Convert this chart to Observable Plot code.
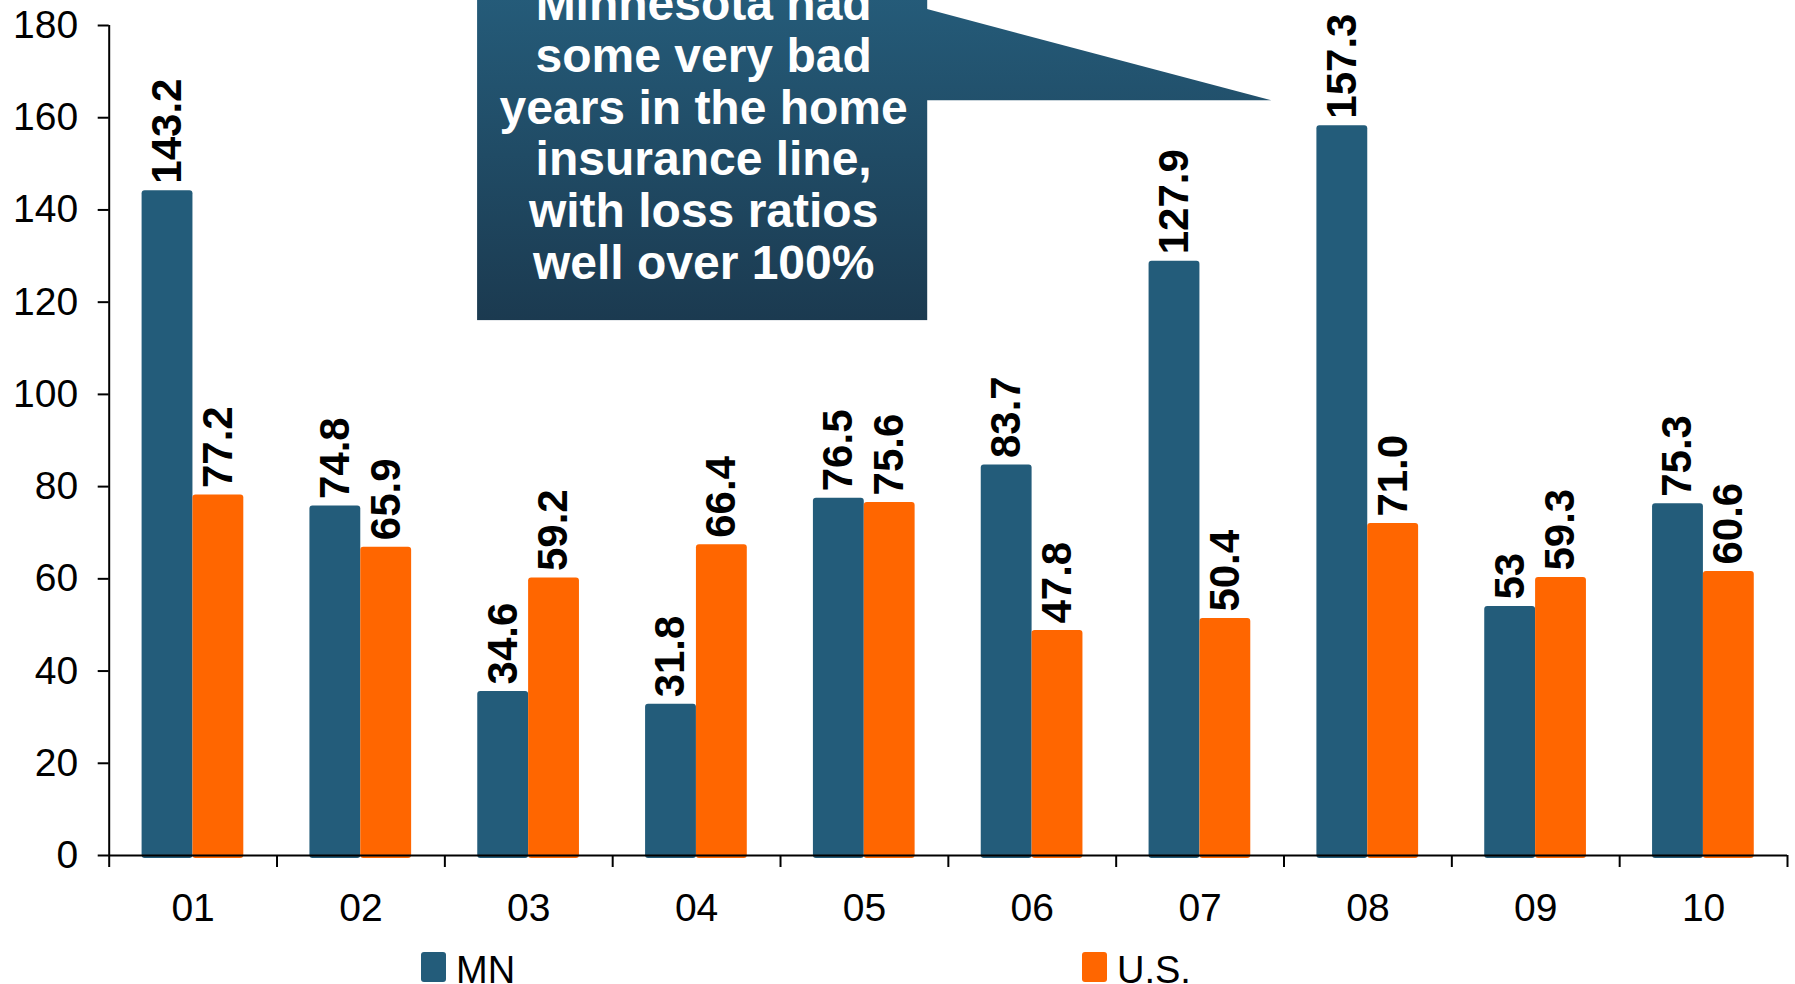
<!DOCTYPE html>
<html><head><meta charset="utf-8">
<script src="https://cdn.jsdelivr.net/npm/d3@7"></script>
<script src="https://cdn.jsdelivr.net/npm/@observablehq/plot@0.6"></script>
<style>
html,body{margin:0;padding:0;background:#fff;}
body{width:1795px;height:984px;overflow:hidden;font-family:"Liberation Sans",Arial,sans-serif;}
#legend{position:relative;height:44px;overflow:hidden;}
.sw{position:absolute;top:12px;width:25px;height:30px;border-radius:3px;}
.lt{position:absolute;top:11px;font-size:38px;line-height:1;color:#000;}
</style></head>
<body><div id="chart"></div><div id="legend"></div>
<script>
const years = ["01","02","03","04","05","06","07","08","09","10"];
const mnValues = [143.2, 74.8, 34.6, 31.8, 76.5, 83.7, 127.9, 157.3, 53, 75.3];
const usValues = [77.2, 65.9, 59.2, 66.4, 75.6, 47.8, 50.4, 71.0, 59.3, 60.6];
const mnLabels = ["143.2","74.8","34.6","31.8","76.5","83.7","127.9","157.3","53","75.3"];
const usLabels = ["77.2","65.9","59.2","66.4","75.6","47.8","50.4","71.0","59.3","60.6"];
const seriesNames = ["MN", "U.S."];
const seriesColors = ["#235C7A", "#FF6600"];
const yTicks = [0, 20, 40, 60, 80, 100, 120, 140, 160, 180];
const calloutLines = ["Minnesota had", "some very bad", "years in the home", "insurance line,", "with loss ratios", "well over 100%"];

const rows = [];
years.forEach((yr, i) => {
  rows.push({i, year: yr, series: seriesNames[0], value: mnValues[i], label: mnLabels[i], k: 0});
  rows.push({i, year: yr, series: seriesNames[1], value: usValues[i], label: usLabels[i], k: 1});
});

const barStart = 0.196, barW = 0.303;
const boundaries = d3.range(0, years.length + 1);
const centers = years.map((_, i) => i + 0.5);

// callout annotation (data units)
const box = {x1: 2.195, x2: 4.877, y1: 116, y2: 196};
const pointer = [{x: 4.87, y1: 163.7, y2: 183.5}, {x: 6.927, y1: 163.7, y2: 163.7}];

const gradientDefs = (index, scales) => {
  const top = scales && scales.y ? scales.y(196) : -21;
  const bottom = scales && scales.y ? scales.y(116) : 320;
  const defs = d3.create("svg:defs");
  const g = defs.append("linearGradient").attr("id", "calloutGrad")
    .attr("gradientUnits", "userSpaceOnUse")
    .attr("x1", 0).attr("x2", 0).attr("y1", top).attr("y2", bottom);
  g.append("stop").attr("offset", "0%").attr("stop-color", "#26607F");
  g.append("stop").attr("offset", "100%").attr("stop-color", "#1B3A50");
  return defs.node();
};

const plot = Plot.plot({
  width: 1795,
  height: 940,
  marginLeft: 108.7,
  marginRight: 8,
  marginTop: 25,
  marginBottom: 85,
  style: {fontFamily: '"Liberation Sans", Arial, sans-serif', fontSize: "39px", color: "#000", overflow: "visible"},
  x: {type: "linear", domain: [0, years.length], axis: null},
  y: {domain: [0, 180], axis: null},
  marks: [
    gradientDefs,
    Plot.rectY(rows, {
      x1: d => d.i + barStart + d.k * barW,
      x2: d => d.i + barStart + (d.k + 1) * barW,
      y: "value",
      fill: d => seriesColors[d.k],
      insetTop: -4.5,
      insetBottom: -3,
      rx: 3
    }),
    Plot.text(rows, {
      x: d => d.i + barStart + (d.k + 0.5) * barW,
      y: "value",
      text: "label",
      rotate: -90,
      textAnchor: "start",
      dy: -11.5,
      fontSize: 42,
      fontWeight: "bold",
      fill: "#000"
    }),
    Plot.ruleY([0], {stroke: "#000", strokeWidth: 2}),
    Plot.ruleX([0], {y1: 0, y2: 180, stroke: "#000", strokeWidth: 2}),
    Plot.axisY({ticks: yTicks, tickSize: 11, tickPadding: 20, strokeWidth: 2, fontSize: 39}),
    Plot.axisX({ticks: boundaries, tickSize: 12, tickFormat: () => "", strokeWidth: 2}),
    Plot.axisX({ticks: centers, tickSize: 0, tickPadding: 38, fontSize: 39, tickFormat: d => years[Math.floor(d)]}),
    Plot.rect([box], {x1: "x1", x2: "x2", y1: "y1", y2: "y2", fill: "url(#calloutGrad)"}),
    Plot.areaY(pointer, {x: "x", y1: "y1", y2: "y2", fill: "url(#calloutGrad)"}),
    Plot.text([calloutLines.join("\n")], {
      x: 3.542,
      y: 156.7,
      text: d => d,
      fill: "#fff",
      fontSize: 48,
      fontWeight: "bold",
      lineHeight: 1.08,
      lineAnchor: "middle",
      textAnchor: "middle"
    })
  ]
});
document.getElementById("chart").appendChild(plot);

const legend = document.getElementById("legend");
const legendPos = [421, 1082];
seriesNames.forEach((name, k) => {
  const sw = document.createElement("div");
  sw.className = "sw";
  sw.style.left = legendPos[k] + "px";
  sw.style.background = seriesColors[k];
  legend.appendChild(sw);
  const t = document.createElement("div");
  t.className = "lt";
  t.style.left = (legendPos[k] + 35) + "px";
  t.textContent = name;
  legend.appendChild(t);
});
</script>
</body></html>
